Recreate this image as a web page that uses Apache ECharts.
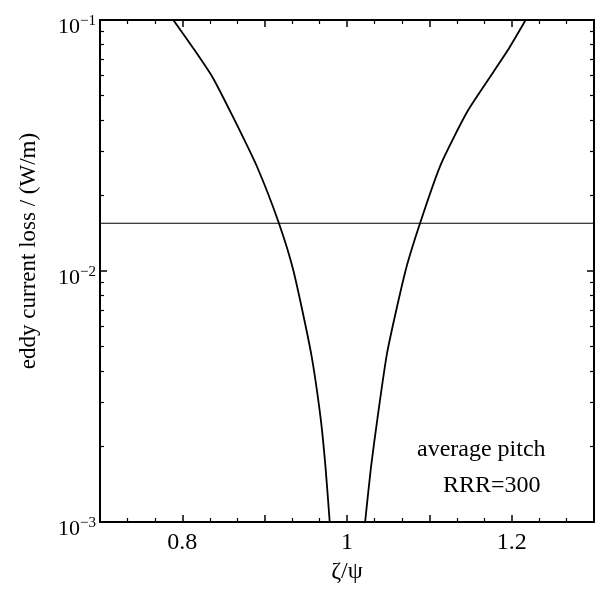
<!DOCTYPE html>
<html>
<head>
<meta charset="utf-8">
<script src="https://cdn.jsdelivr.net/npm/echarts@6/dist/echarts.min.js"></script>
<style>
  html, body { margin: 0; padding: 0; background: #fff; }
  #chart { width: 599px; height: 589px; }
</style>
</head>
<body>
<div id="chart"></div>
<script>
// left branch (zeta/psi < 1)
var leftX = [0.789, 0.813, 0.837, 0.862, 0.891, 0.917, 0.935, 0.956, 0.968, 0.974, 0.979];
var leftY = [0.1, 0.0774, 0.0589, 0.0408, 0.0259, 0.0156, 0.0100, 0.00477, 0.00259, 0.00164, 0.001];
// right branch (zeta/psi > 1)
var rightX = [1.022, 1.029, 1.037, 1.049, 1.071, 1.089, 1.114, 1.146, 1.178, 1.197, 1.217];
var rightY = [0.001, 0.00164, 0.00259, 0.00477, 0.0100, 0.0156, 0.0266, 0.0431, 0.0622, 0.0774, 0.1];
// flat level
var flatX = [0.7, 1.3];
var flatY = [0.0155, 0.0155];

var xLabels = ['0.8', '1', '1.2'];

function pairs(xs, ys) {
    return xs.map(function (x, i) { return [x, ys[i]]; });
}

var font = 'Liberation Serif';
var chart = echarts.init(document.getElementById('chart'));

var axisLine = { show: true, onZero: false, lineStyle: { color: '#000', width: 2 } };
var tick = { inside: true, length: 7, lineStyle: { color: '#000', width: 1.5 } };
var minor = { show: true, length: 4, lineStyle: { color: '#000', width: 1.2 } };

var option = {
    animation: false,
    backgroundColor: '#fff',
    grid: { left: 100, right: 5, top: 20, bottom: 65 },
    xAxis: [{
        type: 'value', min: 0.7, max: 1.3, interval: 0.1,
        axisLine: axisLine, axisTick: tick,
        minorTick: Object.assign({ splitNumber: 3 }, minor),
        splitLine: { show: false },
        axisLabel: {
            color: '#000', fontFamily: font, fontSize: 24, margin: 9,
            formatter: function (v) {
                var s = String(Math.round(v * 10) / 10);
                return xLabels.indexOf(s) >= 0 ? s : '';
            }
        },
        name: 'ζ/ψ', nameLocation: 'middle', nameGap: 38,
        nameTextStyle: { color: '#000', fontFamily: font, fontSize: 24 }
    }, {
        type: 'value', min: 0.7, max: 1.3, interval: 0.1, position: 'top',
        axisLine: axisLine, axisTick: tick,
        minorTick: Object.assign({ splitNumber: 3 }, minor),
        splitLine: { show: false }, axisLabel: { show: false }
    }],
    yAxis: [{
        type: 'log', min: 0.001, max: 0.1, logBase: 10,
        axisLine: axisLine, axisTick: tick,
        minorTick: Object.assign({ splitNumber: 9 }, minor),
        splitLine: { show: false },
        axisLabel: {
            color: '#000', fontFamily: font, fontSize: 22, margin: 4,
            padding: [14, 0, 0, 0],
            formatter: function (v) {
                return '10{s|' + Math.round(Math.log10(v)).toString().replace('-', '\u2212') + '}';
            },
            rich: { s: { fontFamily: font, fontSize: 15, verticalAlign: 'top', padding: [0, 0, 12, 0] } }
        },
        name: 'eddy current loss / (W/m)', nameLocation: 'middle', nameGap: 60, nameRotate: 90,
        nameTextStyle: { color: '#000', fontFamily: font, fontSize: 23, padding: [0, 0, 0, 40] }
    }, {
        type: 'log', min: 0.001, max: 0.1, logBase: 10, position: 'right',
        axisLine: axisLine, axisTick: tick,
        minorTick: Object.assign({ splitNumber: 9 }, minor),
        splitLine: { show: false }, axisLabel: { show: false }
    }],
    series: [{
        type: 'line', data: pairs(leftX, leftY), smooth: 0.2, showSymbol: false,
        lineStyle: { color: '#000', width: 1.8 }
    }, {
        type: 'line', data: pairs(rightX, rightY), smooth: 0.2, showSymbol: false,
        lineStyle: { color: '#000', width: 1.8 }
    }, {
        type: 'line', data: pairs(flatX, flatY), showSymbol: false,
        lineStyle: { color: '#000', width: 1.2 }
    }],
    graphic: [{
        type: 'text', left: 417, top: 438,
        style: { text: 'average pitch', fill: '#000', font: '24px "Liberation Serif"' }
    }, {
        type: 'text', left: 443, top: 474,
        style: { text: 'RRR=300', fill: '#000', font: '24px "Liberation Serif"' }
    }]
};

chart.setOption(option);
</script>
</body>
</html>
